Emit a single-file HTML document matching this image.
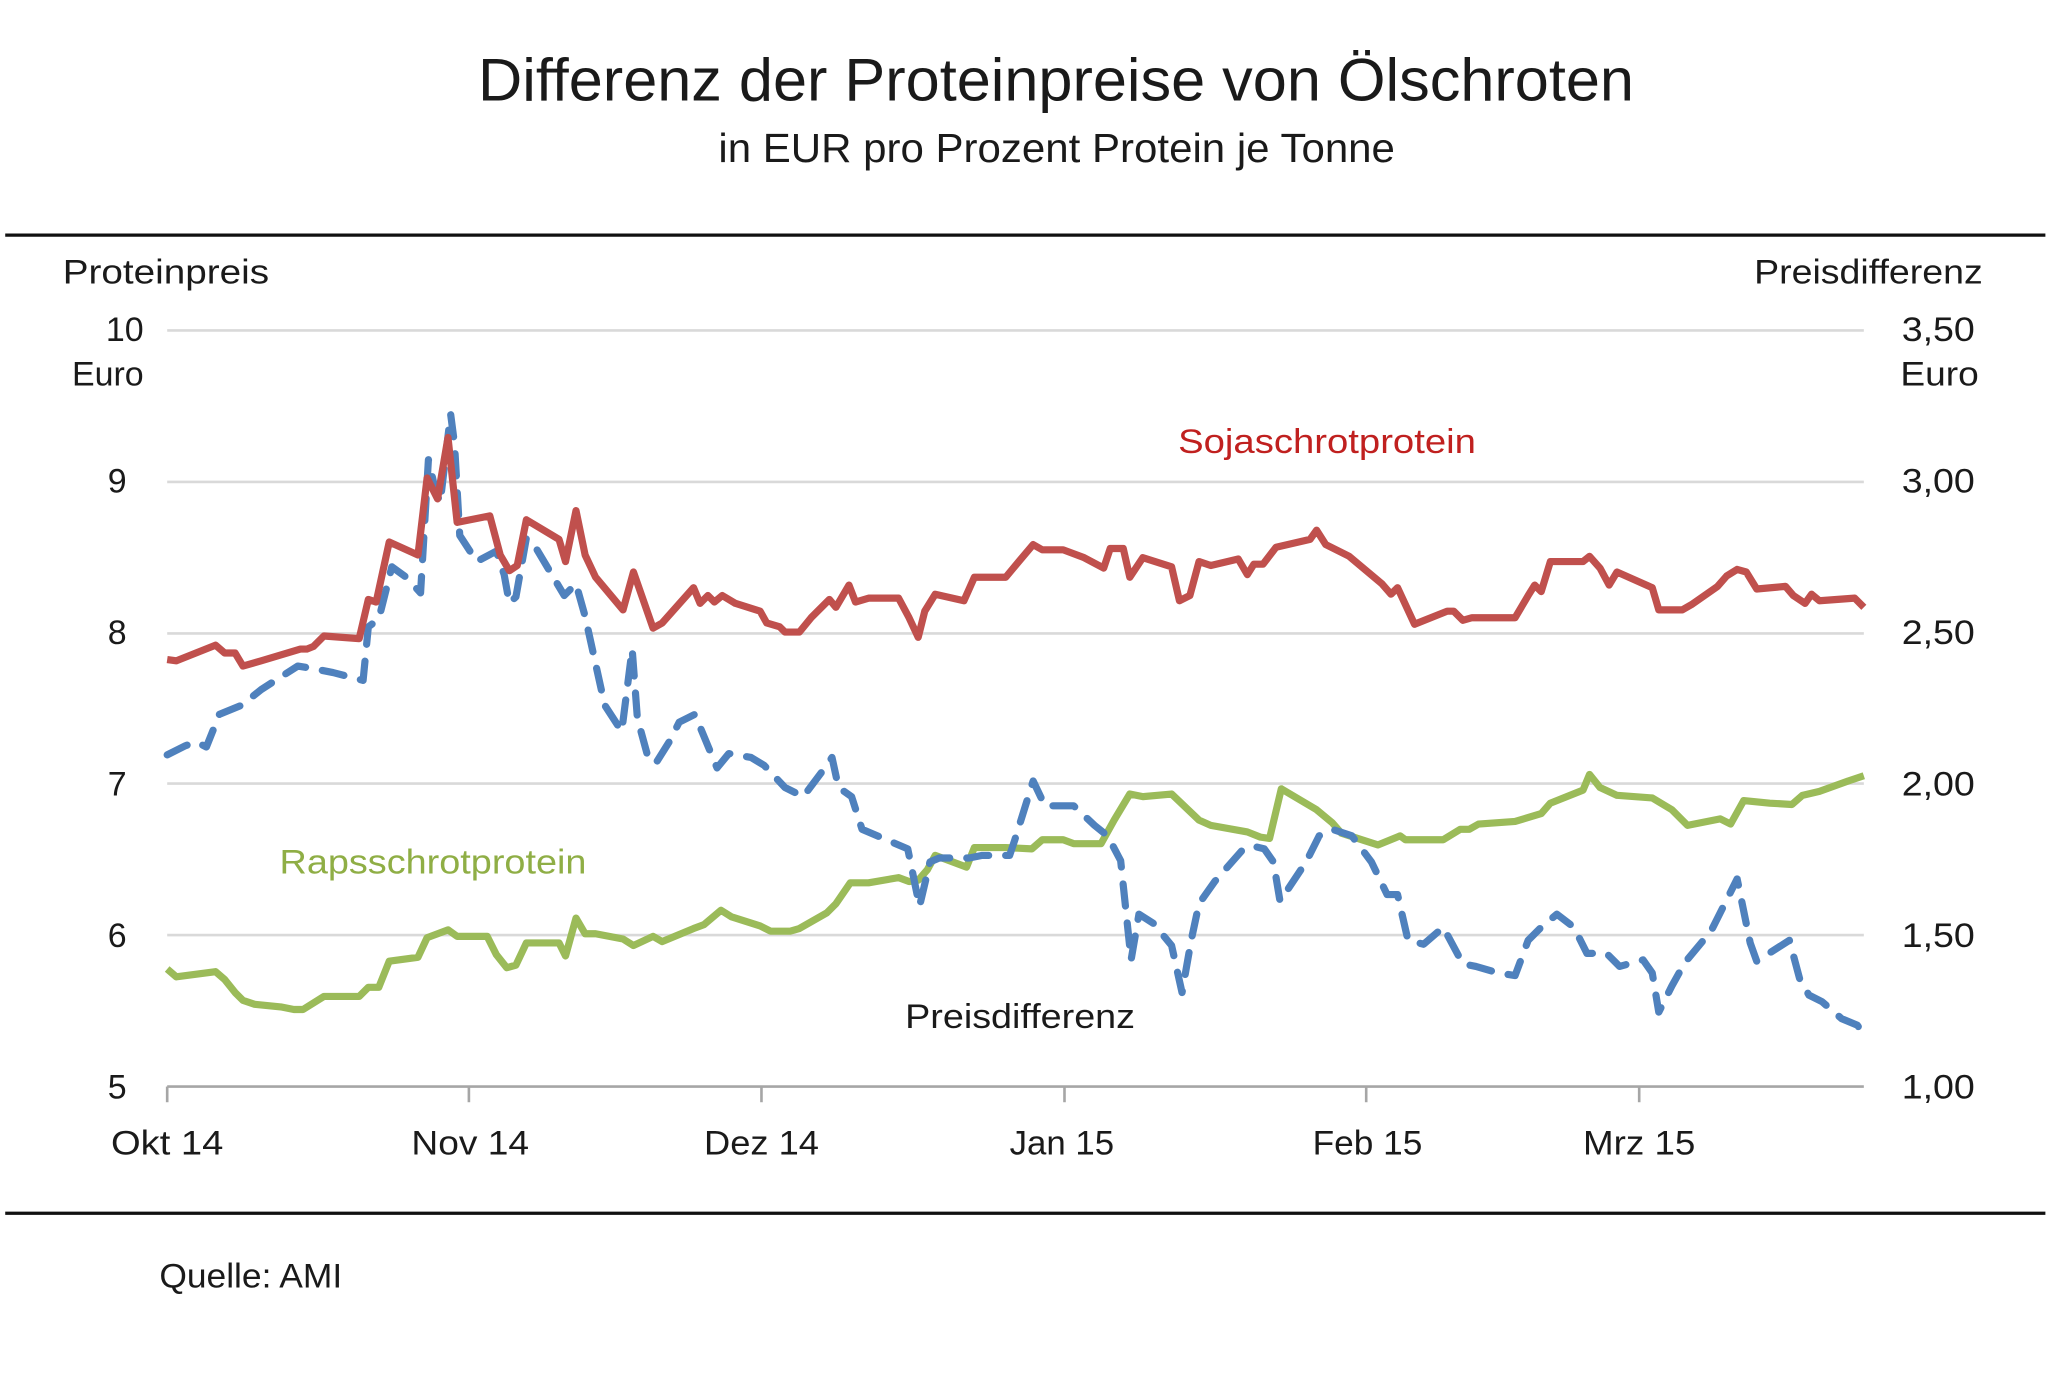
<!DOCTYPE html>
<html><head><meta charset="utf-8"><style>
html,body{margin:0;padding:0;background:#fff;}
svg{display:block;}
text{font-family:"Liberation Sans",sans-serif;fill:#1a1a1a;}
</style></head><body>
<svg width="2048" height="1400" viewBox="0 0 1568 1072" preserveAspectRatio="none">
<text x="366" y="77" font-size="46" textLength="885" lengthAdjust="spacingAndGlyphs">Differenz der Proteinpreise von Ölschroten</text>
<text x="550" y="124" font-size="31" textLength="518" lengthAdjust="spacingAndGlyphs">in EUR pro Prozent Protein je Tonne</text>
<line x1="4" y1="180" x2="1566" y2="180" stroke="#111" stroke-width="2.5"/>
<line x1="4" y1="929" x2="1566" y2="929" stroke="#111" stroke-width="2.5"/>
<g font-size="26">
<text x="48" y="217" textLength="158" lengthAdjust="spacingAndGlyphs">Proteinpreis</text>
<text x="1343" y="217" textLength="175" lengthAdjust="spacingAndGlyphs">Preisdifferenz</text>
<text x="110" y="261" text-anchor="end">10</text>
<text x="110" y="295" text-anchor="end">Euro</text>
<text x="97" y="377" text-anchor="end">9</text>
<text x="97" y="493" text-anchor="end">8</text>
<text x="97" y="609" text-anchor="end">7</text>
<text x="97" y="725" text-anchor="end">6</text>
<text x="97" y="841" text-anchor="end">5</text>
<text x="1456" y="261" textLength="56" lengthAdjust="spacingAndGlyphs">3,50</text>
<text x="1455" y="295" textLength="60" lengthAdjust="spacingAndGlyphs">Euro</text>
<text x="1456" y="377" textLength="56" lengthAdjust="spacingAndGlyphs">3,00</text>
<text x="1456" y="493" textLength="56" lengthAdjust="spacingAndGlyphs">2,50</text>
<text x="1456" y="609" textLength="56" lengthAdjust="spacingAndGlyphs">2,00</text>
<text x="1456" y="725" textLength="56" lengthAdjust="spacingAndGlyphs">1,50</text>
<text x="1456" y="841" textLength="56" lengthAdjust="spacingAndGlyphs">1,00</text>
<text x="85" y="884" textLength="86" lengthAdjust="spacingAndGlyphs">Okt 14</text>
<text x="315" y="884" textLength="90" lengthAdjust="spacingAndGlyphs">Nov 14</text>
<text x="539" y="884" textLength="88" lengthAdjust="spacingAndGlyphs">Dez 14</text>
<text x="773" y="884" textLength="80" lengthAdjust="spacingAndGlyphs">Jan 15</text>
<text x="1005" y="884" textLength="84" lengthAdjust="spacingAndGlyphs">Feb 15</text>
<text x="1212" y="884" textLength="86" lengthAdjust="spacingAndGlyphs">Mrz 15</text>
<text x="122" y="986" textLength="140" lengthAdjust="spacingAndGlyphs">Quelle: AMI</text>
<text x="902" y="347" style="fill:#c0201f" textLength="228" lengthAdjust="spacingAndGlyphs">Sojaschrotprotein</text>
<text x="214" y="669" style="fill:#8fae45" textLength="235" lengthAdjust="spacingAndGlyphs">Rapsschrotprotein</text>
<text x="693" y="787" textLength="176" lengthAdjust="spacingAndGlyphs">Preisdifferenz</text>
</g>
<g stroke="#d9d9d9" stroke-width="2">
<line x1="128" y1="253" x2="1427" y2="253"/>
<line x1="128" y1="369" x2="1427" y2="369"/>
<line x1="128" y1="485" x2="1427" y2="485"/>
<line x1="128" y1="600" x2="1427" y2="600"/>
<line x1="128" y1="716" x2="1427" y2="716"/>
</g>
<g stroke="#a6a6a6" stroke-width="2">
<line x1="128" y1="832" x2="1427" y2="832"/>
<line x1="128" y1="832" x2="128" y2="844"/>
<line x1="359" y1="832" x2="359" y2="844"/>
<line x1="583" y1="832" x2="583" y2="844"/>
<line x1="815" y1="832" x2="815" y2="844"/>
<line x1="1046" y1="832" x2="1046" y2="844"/>
<line x1="1255" y1="832" x2="1255" y2="844"/>
</g>
<polyline fill="none" stroke="#9bbb59" stroke-width="5.5" stroke-linejoin="round" points="128,742 135,748 165,744 172,750 180,760 186,766 195,769 215,771 225,773 232,773 248,763 275,763 282,756 290,756 298,736 320,733 327,718 343,712 350,717 373,717 380,731 388,741 395,739 403,722 428,722 433,732 441,703 448,715 456,715 477,719 485,724 500,717 507,721 531,711 539,708 552,697 560,702 582,709 590,713 605,713 612,711 633,699 640,692 651,676 665,676 688,672 696,675 703,674 710,666 716,655 740,664 746,649 770,649 790,650 798,643 814,643 822,646 843,646 853,628 865,608 875,610 897,608 918,628 927,632 955,637 965,641 972,642 981,604 1008,620 1020,630 1027,638 1055,647 1072,640 1076,643 1105,643 1118,635 1125,635 1132,631 1160,629 1180,623 1187,615 1212,605 1217,593 1225,603 1238,609 1265,611 1280,620 1292,632 1317,627 1325,631 1335,613 1355,615 1372,616 1380,609 1393,606 1415,598 1427,594"/>
<polyline fill="none" stroke="#4f81bd" stroke-width="5.5" stroke-linecap="round" stroke-linejoin="round" stroke-dasharray="17,13" points="128,578 142,571 150,568 158,572 168,547 185,540 200,528 228,510 240,512 255,515 278,521 282,480 290,474 300,434 311,442 322,454 328,352 333,374 337,385 345,317 348,340 352,410 365,430 380,422 386,440 390,462 395,457 403,412 410,419 432,456 441,447 448,472 463,540 476,560 484,497 488,550 497,583 503,583 513,567 520,553 532,547 549,588 558,577 575,580 585,586 601,603 615,610 630,590 637,580 642,603 652,610 660,635 695,650 704,694 712,660 719,657 742,657 752,655 773,655 777,643 791,598 800,617 822,617 838,632 848,640 858,659 866,735 872,700 883,707 897,724 905,760 912,720 918,692 930,675 952,650 960,648 968,650 975,660 980,690 1000,660 1010,640 1020,635 1035,640 1050,660 1062,685 1070,685 1078,720 1090,723 1105,710 1120,738 1130,740 1147,745 1160,747 1170,720 1180,710 1192,700 1205,710 1215,730 1230,730 1240,740 1258,735 1265,745 1270,775 1280,755 1290,737 1310,713 1330,673 1340,722 1345,736 1370,720 1378,750 1385,762 1395,767 1410,780 1422,785 1427,792"/>
<polyline fill="none" stroke="#c0504d" stroke-width="5.5" stroke-linejoin="round" points="128,505 135,506 165,494 172,500 180,500 186,510 200,506 230,497 235,497 240,495 248,487 275,489 282,459 288,461 298,415 320,425 327,366 335,382 343,335 350,400 375,395 383,425 390,437 396,433 403,398 428,413 433,430 441,391 448,425 456,442 477,467 485,438 500,481 507,477 531,450 536,462 542,456 547,461 553,456 563,462 582,468 587,477 597,480 601,484 612,484 621,473 635,459 640,465 650,448 655,461 665,458 688,458 696,473 703,488 708,468 716,455 738,460 746,442 770,442 780,430 791,417 798,421 814,421 830,427 845,435 850,420 860,420 865,442 875,427 897,434 903,460 911,456 918,430 927,433 948,428 955,440 960,432 967,432 977,419 1003,413 1008,406 1015,417 1033,426 1058,447 1065,455 1070,450 1083,478 1108,468 1113,468 1120,475 1127,473 1160,473 1170,456 1175,448 1180,453 1187,430 1212,430 1217,426 1225,435 1232,448 1238,438 1265,450 1270,467 1288,467 1295,463 1315,449 1322,441 1330,436 1337,438 1345,451 1367,449 1373,456 1382,462 1387,455 1393,460 1420,458 1427,465"/>
</svg>
</body></html>
